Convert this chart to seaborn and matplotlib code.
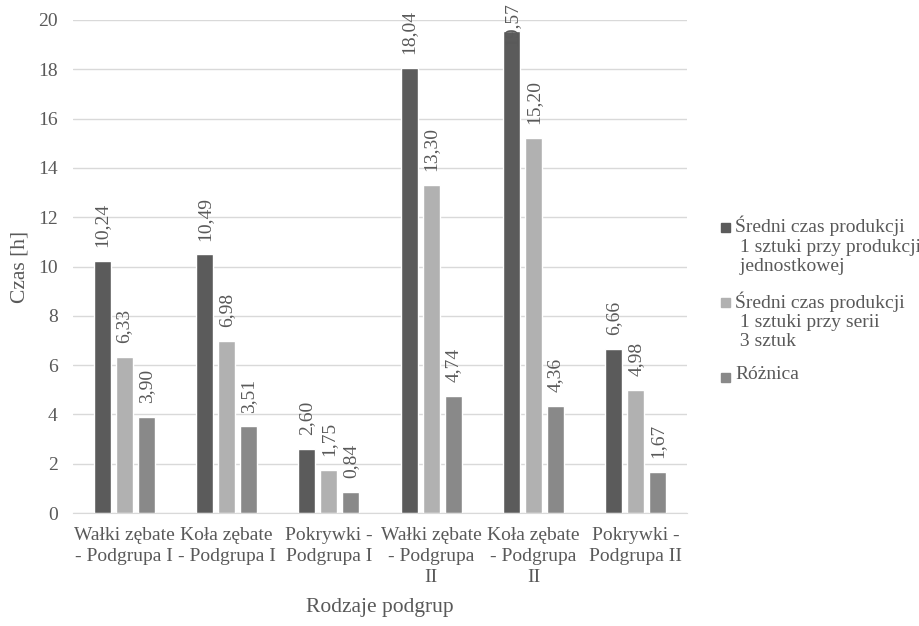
import matplotlib
matplotlib.use("Agg")
import matplotlib.pyplot as plt
import matplotlib.patches as mpatches
import seaborn as sns
import pandas as pd

categories = ["Wałki zębate\n- Podgrupa I", "Koła zębate\n- Podgrupa I", "Pokrywki -\nPodgrupa I",
              "Wałki zębate\n- Podgrupa\nII", "Koła zębate\n- Podgrupa\nII", "Pokrywki -\nPodgrupa II"]
series_names = ["Średni czas produkcji\n 1 sztuki przy produkcji\n jednostkowej",
                "Średni czas produkcji\n 1 sztuki przy serii\n 3 sztuk",
                "Różnica"]
jednostkowa = [10.24, 10.49, 2.60, 18.04, 19.57, 6.66]
seria = [6.33, 6.98, 1.75, 13.30, 15.20, 4.98]
roznica = [3.90, 3.51, 0.84, 4.74, 4.36, 1.67]
y_ticks = [0, 2, 4, 6, 8, 10, 12, 14, 16, 18, 20]

rows = []
for name, vals in zip(series_names, [jednostkowa, seria, roznica]):
    for c, v in zip(categories, vals):
        rows.append({"cat": c, "series": name, "val": v})
df = pd.DataFrame(rows)

sns.set_style("white")
plt.rcParams['font.family'] = ['Liberation Serif', 'DejaVu Serif']
txt = "#595959"
W, H = 920, 626

fig = plt.figure(figsize=(9.2, 6.26), dpi=100)
ax = fig.add_axes([73 / W, 1 - 513 / H, (687 - 73) / W, (513 - 20) / H])
palette = ["#5b5b5b", "#b1b1b1", "#898989"]
sns.barplot(data=df, x="cat", y="val", hue="series", order=categories, hue_order=series_names,
            palette=palette, width=0.645, gap=0.22, saturation=1, ax=ax, legend=False)

label_texts = []
for cont in ax.containers:
    labels = [f"{v:.2f}".replace(".", ",") for v in cont.datavalues]
    label_texts += ax.bar_label(cont, labels=labels, rotation=90, padding=10, fontsize=14, color=txt)

ax.set_ylim(0, 20)
ax.set_yticks(y_ticks)
ax.yaxis.grid(True, color="#d9d9d9", linewidth=1)
ax.set_axisbelow(True)
for s in ["top", "right", "left"]:
    ax.spines[s].set_visible(False)
ax.spines["bottom"].set_color("#d9d9d9")
ax.tick_params(axis="x", length=0, labelsize=14, colors=txt, pad=10)
ax.tick_params(axis="y", length=0, labelsize=14, colors=txt, pad=11)
for t in ax.get_xticklabels():
    t.set_linespacing(1.3)
ax.set_xlabel("Rodzaje podgrup", fontsize=15.5, color=txt, labelpad=9)
ax.set_ylabel("Czas [h]", fontsize=15.5, color=txt, labelpad=6)

# legend drawn as boxes + text on the right
entry_centers = [227, 302, 377]
for name, col, yc in zip(series_names, palette, entry_centers):
    fig.patches.append(mpatches.Rectangle((721 / W, 1 - (yc + 4.5) / H), 9 / W, 9 / H,
                                          transform=fig.transFigure, color=col, figure=fig))
    fig.text(735 / W, 1 - (yc - 11) / H, name, fontsize=14, color=txt, va="top", ha="left",
             linespacing=1.17)

# keep labels that would leave the figure inside it (as the reference does)
fig.canvas.draw()
r = fig.canvas.get_renderer()
for t in label_texts:
    bb = t.get_window_extent(r)
    if bb.y1 > H - 2:
        shift_px = bb.y1 - (H - 2)
        x0, y0 = t.xyann
        t.xyann = (x0, y0 - shift_px * 72 / 100)

fig.savefig("out.png", dpi=100)
